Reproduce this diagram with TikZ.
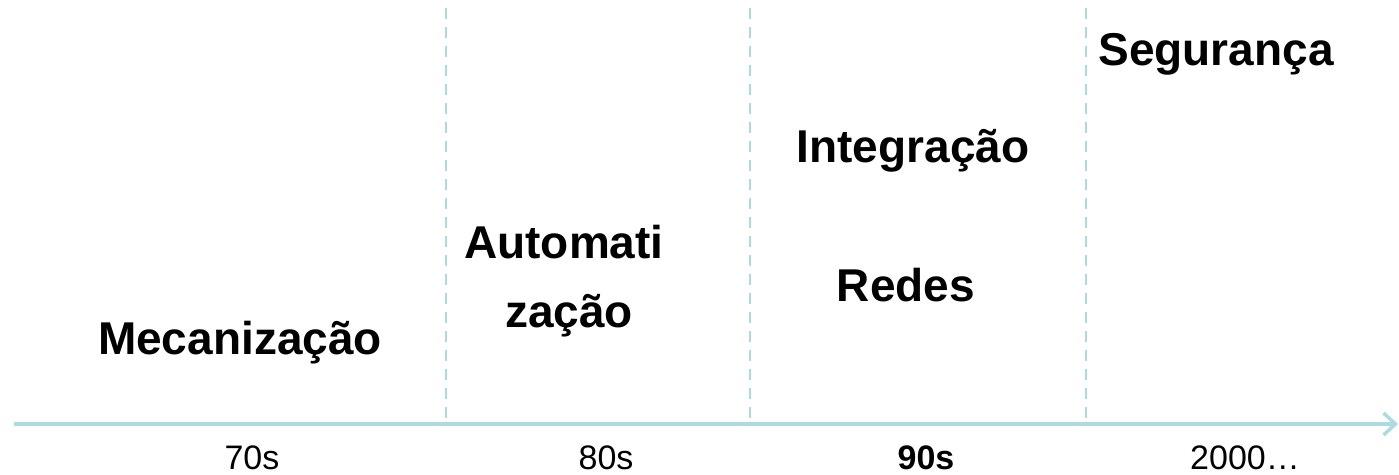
\documentclass[tikz,border=0pt]{standalone}
\usepackage{fontspec}
\setmainfont{Liberation Sans}
\usepackage{tikz}
\usetikzlibrary{arrows.meta, calc}
\definecolor{axisteal}{RGB}{172,218,224}

\begin{document}
\begin{tikzpicture}[x=1pt,y=-1pt]
      \tikzset{era label/.style={inner sep=0pt,
          outer sep=0pt,
          anchor=base,
          font=\fontsize{46}{55}\selectfont\bfseries},
        year label/.style={inner sep=0pt,
          outer sep=0pt,
          anchor=base,
          font=\fontsize{34}{40}\selectfont},
        time axis/.style={draw=axisteal, line width=3.4pt,
          -{Straight Barb[length=12pt,width=22pt,line width=3.4pt]}},
        era border/.style={draw=axisteal, line width=2.8pt,
          dash pattern=on 11pt off 8pt}
      }
      \useasboundingbox (0,0) rectangle (1399,474);
      \coordinate (S) at (14,424);
      \coordinate (E) at (1398,424);
      \coordinate (D1) at (446,8);
      \coordinate (D2) at (750,8);
      \coordinate (D3) at (1086,8);
      \draw [era border] (D1)--(D1|-S);
      \draw [era border] (D2)--(D2|-S);
      \draw [era border] (D3)--(D3|-S);
      \draw [time axis] (S)--(E);

      \node [era label] (mec) at (240,354) {Mecanização};
      \node [era label] (aut) at (564,258) {Automati};
      \node [era label] (aut2) at (569,327) {zação};
      \node [era label] (int) at (913,162) {Integração};
      \node [era label] (red) at (906,301) {Redes};
      \node [era label] (seg) at (1216,65) {Segurança};

      \node [year label] (y70) at (252,469) {70s};
      \node [year label] (y80) at (606,469) {80s};
      \node [year label,font=\fontsize{34}{40}\selectfont\bfseries] (y90) at (926,469) {90s};
      \node [year label] (y00) at (1245,469) {2000…};
    \end{tikzpicture}
\end{document}
